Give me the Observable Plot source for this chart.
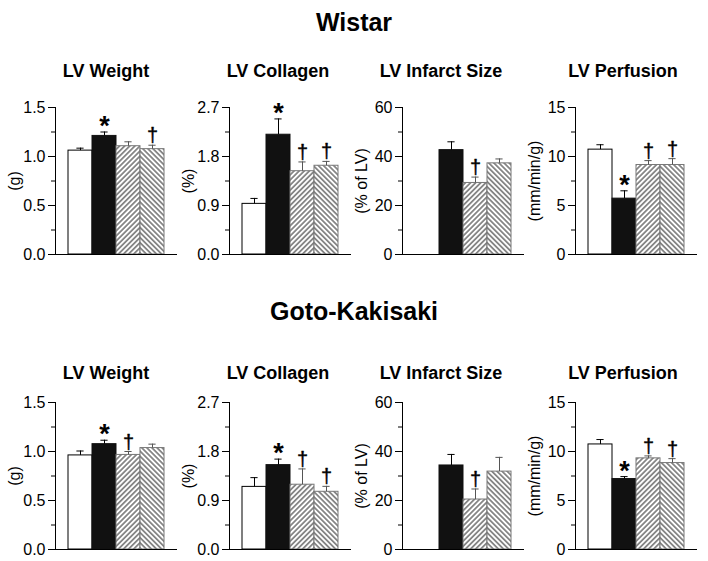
<!DOCTYPE html>
<html>
<head>
<meta charset="utf-8">
<script src="https://cdn.jsdelivr.net/npm/d3@7"></script>
<script src="https://cdn.jsdelivr.net/npm/@observablehq/plot@0.6"></script>
<style>
  html, body { margin: 0; padding: 0; background: #fff; }
  #root { position: relative; width: 708px; height: 561px; overflow: hidden; font-family: Arial, "Liberation Sans", sans-serif; color: #000; }
  .main-title { position: absolute; font-weight: bold; font-size: 25px; line-height: 25px; white-space: nowrap; transform: translateX(-50%); }
  .panel-title { position: absolute; font-weight: bold; font-size: 18px; line-height: 18px; white-space: nowrap; transform: translateX(-50%); }
  .panel { position: absolute; }
</style>
</head>
<body>
<svg width="0" height="0" style="position:absolute;left:0;top:0">
  <defs>
    <pattern id="hatchF" patternUnits="userSpaceOnUse" width="3.6" height="8" patternTransform="rotate(45)">
      <rect width="3.6" height="8" fill="#fff"></rect>
      <line x1="1.8" y1="0" x2="1.8" y2="8" stroke="#000" stroke-width="0.9"></line>
    </pattern>
    <pattern id="hatchB" patternUnits="userSpaceOnUse" width="3.6" height="8" patternTransform="rotate(-45)">
      <rect width="3.6" height="8" fill="#fff"></rect>
      <line x1="1.8" y1="0" x2="1.8" y2="8" stroke="#000" stroke-width="0.9"></line>
    </pattern>
  </defs>
</svg>
<div id="root"></div>
<script>
// ---------- data ----------
const groups = ["Sham", "MI", "MI + A", "MI + B"];
const strainTitles = ["Wistar", "Goto-Kakisaki"];
const panelTitles = ["LV Weight", "LV Collagen", "LV Infarct Size", "LV Perfusion"];
const unitLabels = ["(g)", "(%)", "(% of LV)", "(mm/min/g)"];

const weightTicks = [0, 0.5, 1.0, 1.5];
const collagenTicks = [0, 0.9, 1.8, 2.7];
const infarctTicks = [0, 20, 40, 60];
const perfusionTicks = [0, 5, 10, 15];
const tickLabelsWeight = ["0.0", "0.5", "1.0", "1.5"];
const tickLabelsCollagen = ["0.0", "0.9", "1.8", "2.7"];
const tickLabelsInfarct = ["0", "20", "40", "60"];
const tickLabelsPerfusion = ["0", "5", "10", "15"];

// Wistar (mean, SEM)
const wistarWeight = [1.06, 1.21, 1.105, 1.075];
const wistarWeightErr = [0.025, 0.04, 0.045, 0.04];
const wistarCollagen = [0.93, 2.20, 1.53, 1.63];
const wistarCollagenErr = [0.10, 0.29, 0.17, 0.08];
const wistarInfarct = [null, 42.6, 29.2, 37.2];
const wistarInfarctErr = [null, 3.4, 2.4, 1.8];
const wistarPerfusion = [10.7, 5.7, 9.13, 9.13];
const wistarPerfusionErr = [0.5, 0.8, 0.45, 0.65];

// Goto-Kakisaki (mean, SEM)
const gkWeight = [0.96, 1.075, 0.965, 1.035];
const gkWeightErr = [0.045, 0.04, 0.035, 0.04];
const gkCollagen = [1.15, 1.55, 1.19, 1.06];
const gkCollagenErr = [0.17, 0.11, 0.29, 0.10];
const gkInfarct = [null, 34.3, 20.4, 31.8];
const gkInfarctErr = [null, 4.5, 4.3, 5.8];
const gkPerfusion = [10.72, 7.19, 9.3, 8.82];
const gkPerfusionErr = [0.5, 0.25, 0.25, 0.45];

// significance markers (* vs sham, † vs MI)
const wistarWeightSig = ["", "*", "", "†"];
const wistarCollagenSig = ["", "*", "†", "†"];
const wistarInfarctSig = ["", "", "†", ""];
const wistarPerfusionSig = ["", "*", "†", "†"];
const gkWeightSig = ["", "*", "†", ""];
const gkCollagenSig = ["", "*", "†", "†"];
const gkInfarctSig = ["", "", "†", ""];
const gkPerfusionSig = ["", "*", "†", "†"];

// ---------- styling / layout ----------
const barFills = ["#fff", "#111", "url(#hatchF)", "url(#hatchB)"];
const barStrokes = ["#000", "#111", "#777", "#777"];
const errStrokes = ["#000", "#000", "#555", "#555"];
const axisX = [55, 229, 402, 575];
const titleCX = [106, 278, 441, 623];
const frameTops = [107, 402];
const strainTitleTops = [10, 299];
const panelTitleTops = [62, 364];
const frameH = 147, frameW = 122, barW = 24;
const mL = 55, mR = 5, mT = 12, mB = 10;
const font = "Arial, 'Liberation Sans', sans-serif";

const root = document.getElementById("root");

function addDiv(cls, text, left, top) {
  const d = document.createElement("div");
  d.className = cls;
  d.textContent = text;
  d.style.left = left + "px";
  d.style.top = top + "px";
  root.appendChild(d);
}

function panel(row, col, ticks, labels, means, errs, sigs) {
  const data = groups.map((g, i) => ({g, i, v: means[i], e: errs[i], s: sigs[i]})).filter(d => d.v != null);
  const pad = (frameW - groups.length * barW) / 2 / barW;
  const ymax = ticks[ticks.length - 1];
  const minors = ticks.slice(1).map((t, k) => (t + ticks[k]) / 2);
  const tickRows = ticks.map((t, k) => ({t, label: labels[k]}));
  const chart = Plot.plot({
    width: mL + frameW + mR,
    height: mT + frameH + mB,
    marginLeft: mL, marginRight: mR, marginTop: mT, marginBottom: mB,
    style: {fontFamily: font, fontSize: "16px", background: "transparent", color: "#000", overflow: "visible"},
    x: {type: "linear", domain: [-pad, groups.length + pad], axis: null},
    y: {domain: [0, ymax], axis: null},
    color: {type: "identity"},
    marks: [
      Plot.rect(data, {
        x1: d => d.i, x2: d => d.i + 1, y1: d => 0, y2: d => d.v,
        fill: d => barFills[d.i], stroke: d => barStrokes[d.i], strokeWidth: 1
      }),
      Plot.ruleX(data, {x: d => d.i + 0.5, y1: d => d.v, y2: d => d.v + d.e, stroke: d => errStrokes[d.i], strokeWidth: 1}),
      Plot.ruleY(data, {y: d => d.v + d.e, x1: d => d.i + 0.35, x2: d => d.i + 0.65, stroke: d => errStrokes[d.i], strokeWidth: 1}),
      Plot.text(data.filter(d => d.s === "*"), {
        x: d => d.i + 0.5, y: d => d.v + d.e, text: "s",
        fontSize: 27, fontWeight: "bold", dy: 3, lineAnchor: "bottom", fill: "#000"
      }),
      Plot.text(data.filter(d => d.s === "†"), {
        x: d => d.i + 0.5, y: d => d.v + d.e, text: "s",
        fontSize: 20, dy: -3, lineAnchor: "bottom", fill: "#000", stroke: "#000", strokeWidth: 0.4
      }),
      Plot.ruleX([-pad], {stroke: "#000", strokeWidth: 1}),
      Plot.ruleY([0], {stroke: "#000", strokeWidth: 1}),
      Plot.axisY({ticks: minors, tickSize: 4, tickFormat: () => "", label: null}),
      Plot.axisY({ticks, tickSize: 7, tickPadding: 3, tickFormat: () => "", label: null}),
      Plot.text(tickRows, {
        y: "t", text: "label", frameAnchor: "left", dx: -10, textAnchor: "end", fontSize: 16, fill: "#000"
      }),
      Plot.text([unitLabels[col]], {
        text: d => d, frameAnchor: "left", rotate: -90, dx: -41, textAnchor: "middle", fontSize: 16, fill: "#000"
      })
    ]
  });
  chart.classList.add("panel");
  chart.style.left = (axisX[col] - mL) + "px";
  chart.style.top = (frameTops[row] - mT) + "px";
  root.appendChild(chart);
  addDiv("panel-title", panelTitles[col], titleCX[col], panelTitleTops[row]);
}

const allTicks = [weightTicks, collagenTicks, infarctTicks, perfusionTicks];
const allLabels = [tickLabelsWeight, tickLabelsCollagen, tickLabelsInfarct, tickLabelsPerfusion];
const wistarMeans = [wistarWeight, wistarCollagen, wistarInfarct, wistarPerfusion];
const wistarErrs = [wistarWeightErr, wistarCollagenErr, wistarInfarctErr, wistarPerfusionErr];
const wistarSigs = [wistarWeightSig, wistarCollagenSig, wistarInfarctSig, wistarPerfusionSig];
const gkMeans = [gkWeight, gkCollagen, gkInfarct, gkPerfusion];
const gkErrs = [gkWeightErr, gkCollagenErr, gkInfarctErr, gkPerfusionErr];
const gkSigs = [gkWeightSig, gkCollagenSig, gkInfarctSig, gkPerfusionSig];

addDiv("main-title", strainTitles[0], 354, strainTitleTops[0]);
addDiv("main-title", strainTitles[1], 354, strainTitleTops[1]);
for (let c = 0; c < 4; c++) {
  panel(0, c, allTicks[c], allLabels[c], wistarMeans[c], wistarErrs[c], wistarSigs[c]);
  panel(1, c, allTicks[c], allLabels[c], gkMeans[c], gkErrs[c], gkSigs[c]);
}
</script>
</body>
</html>
